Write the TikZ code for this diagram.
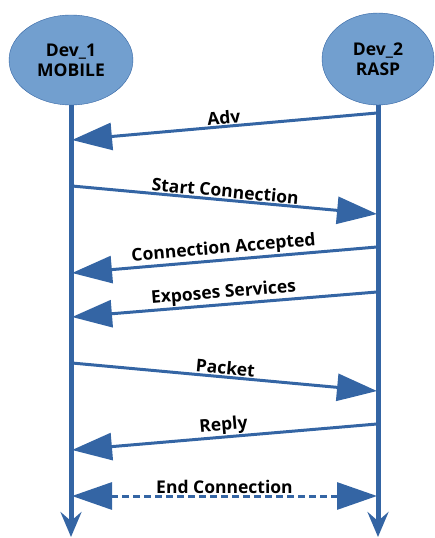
\documentclass[tikz,border=0pt]{standalone}
\usepackage{fontspec}
\setmainfont{Open Sans}
\usetikzlibrary{arrows.meta, shapes.geometric}
\definecolor{lineblue}{HTML}{3465A4}
\definecolor{fillblue}{HTML}{729FCF}

\begin{document}
\begin{tikzpicture}[x=1pt, y=-1pt, font=\bfseries\fontsize{17.5}{20}\selectfont,
  dev/.style={ellipse, draw=lineblue, fill=fillblue, align=center, inner sep=0pt},
  life/.style={lineblue, line width=5pt, -{Stealth[length=25pt, width=21pt, inset=9pt]}},
  msg/.style={lineblue, line width=3pt, -{Triangle[length=40pt, width=27pt]}},
  lbl/.style={midway, sloped, above, black, inner sep=1pt}]
  \useasboundingbox (0,0) rectangle (435,538);
  % devices
  \node[dev, minimum width=124pt, minimum height=90pt] (dev1) at (71,60) {Dev\_1\\MOBILE};
  \node[dev, minimum width=112pt, minimum height=92pt] (dev2) at (378,59) {Dev\_2\\RASP};
  \coordinate (end1) at (71,537);
  \coordinate (end2) at (378,537);
  \draw[life] (dev1) -- (end1);
  \draw[life] (dev2) -- (end2);
  % messages
  \coordinate (adv-r) at (377,113);   \coordinate (adv-l) at (72,140);
  \coordinate (start-l) at (72,186);  \coordinate (start-r) at (377,214);
  \coordinate (acc-r) at (377,247);   \coordinate (acc-l) at (72,273);
  \coordinate (serv-r) at (377,292);  \coordinate (serv-l) at (72,317);
  \coordinate (pkt-l) at (72,363);    \coordinate (pkt-r) at (377,391);
  \coordinate (rep-r) at (377,424);   \coordinate (rep-l) at (72,450);
  \coordinate (end-l) at (72,496);    \coordinate (end-r) at (377,496);
  \draw[msg] (adv-r) -- node[lbl] {Adv} (adv-l);
  \draw[msg] (start-l) -- node[lbl] {Start Connection} (start-r);
  \draw[msg] (acc-r) -- node[lbl] {Connection Accepted} (acc-l);
  \draw[msg] (serv-r) -- node[lbl] {Exposes Services} (serv-l);
  \draw[msg] (pkt-l) -- node[lbl] {Packet} (pkt-r);
  \draw[msg] (rep-r) -- node[lbl] {Reply} (rep-l);
  \draw[msg, {Triangle[length=40pt, width=27pt]}-{Triangle[length=40pt, width=27pt]},
    dash pattern=on 7pt off 4pt] (end-l) -- node[lbl] {End Connection} (end-r);
\end{tikzpicture}
\end{document}
